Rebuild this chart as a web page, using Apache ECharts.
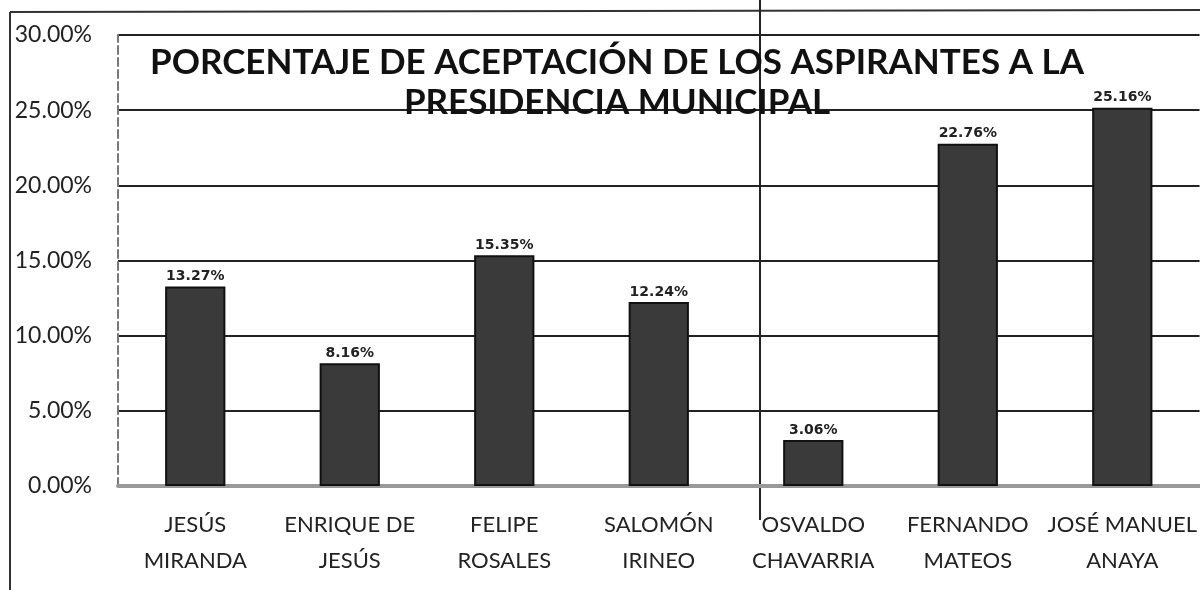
<!DOCTYPE html>
<html>
<head>
<meta charset="utf-8">
<script src="https://cdn.jsdelivr.net/npm/echarts@6/dist/echarts.min.js"></script>
<style>html,body{margin:0;padding:0;background:#fff}#c{width:1200px;height:590px}</style>
</head>
<body>
<div id="c"></div>
<script>
const categories = ["JESÚS\nMIRANDA","ENRIQUE DE\nJESÚS","FELIPE\nROSALES","SALOMÓN\nIRINEO","OSVALDO\nCHAVARRIA","FERNANDO\nMATEOS","JOSÉ MANUEL\nANAYA"];
const values = [13.27, 8.16, 15.35, 12.24, 3.06, 22.76, 25.16];
const titleText = "PORCENTAJE DE ACEPTACIÓN DE LOS ASPIRANTES A LA\nPRESIDENCIA MUNICIPAL";

const chart = echarts.init(document.getElementById('c'));
chart.setOption({
  backgroundColor: '#fff',
  animation: false,
  title: {
    text: titleText,
    left: 612, top: 38, textAlign: 'center',
    textStyle: { fontFamily: 'Lato', fontWeight: 'bold', fontSize: 35, color: '#111', lineHeight: 40 }
  },
  grid: { left: 118, right: 0, top: 35, bottom: 104 },
  xAxis: {
    type: 'category', data: categories,
    axisTick: { show: false },
    axisLine: { lineStyle: { color: '#999', width: 4 } },
    axisLabel: { fontFamily: 'Lato', fontSize: 22, color: '#222', lineHeight: 36, margin: 21, interval: 0 }
  },
  yAxis: {
    type: 'value', min: 0, max: 30, interval: 5,
    axisLine: { show: true, lineStyle: { color: '#777', width: 2, type: 'dashed' } },
    axisLabel: { fontFamily: 'Lato', fontSize: 23, color: '#222', margin: 26, formatter: v => v.toFixed(2) + '%' },
    splitLine: { lineStyle: { color: '#222', width: 2 } }
  },
  series: [{
    type: 'bar', data: values, barWidth: '39%',
    itemStyle: { color: '#3a3a3a', borderColor: '#111', borderWidth: 2 },
    label: { show: true, position: 'top', distance: 3, fontFamily: 'DejaVu Sans', fontWeight: 'bold', fontSize: 14, color: '#222',
      formatter: p => p.value.toFixed(2) + '%' }
  }],
  graphic: [
    { type: 'line', shape: { x1: 10, y1: 12, x2: 10, y2: 590 }, style: { stroke: '#333', lineWidth: 2 } },
    { type: 'line', shape: { x1: 10, y1: 12, x2: 1200, y2: 10 }, style: { stroke: '#333', lineWidth: 2 } },
    { type: 'line', shape: { x1: 760, y1: 0, x2: 760, y2: 520 }, style: { stroke: '#222', lineWidth: 2 } }
  ]
});
</script>
</body>
</html>
